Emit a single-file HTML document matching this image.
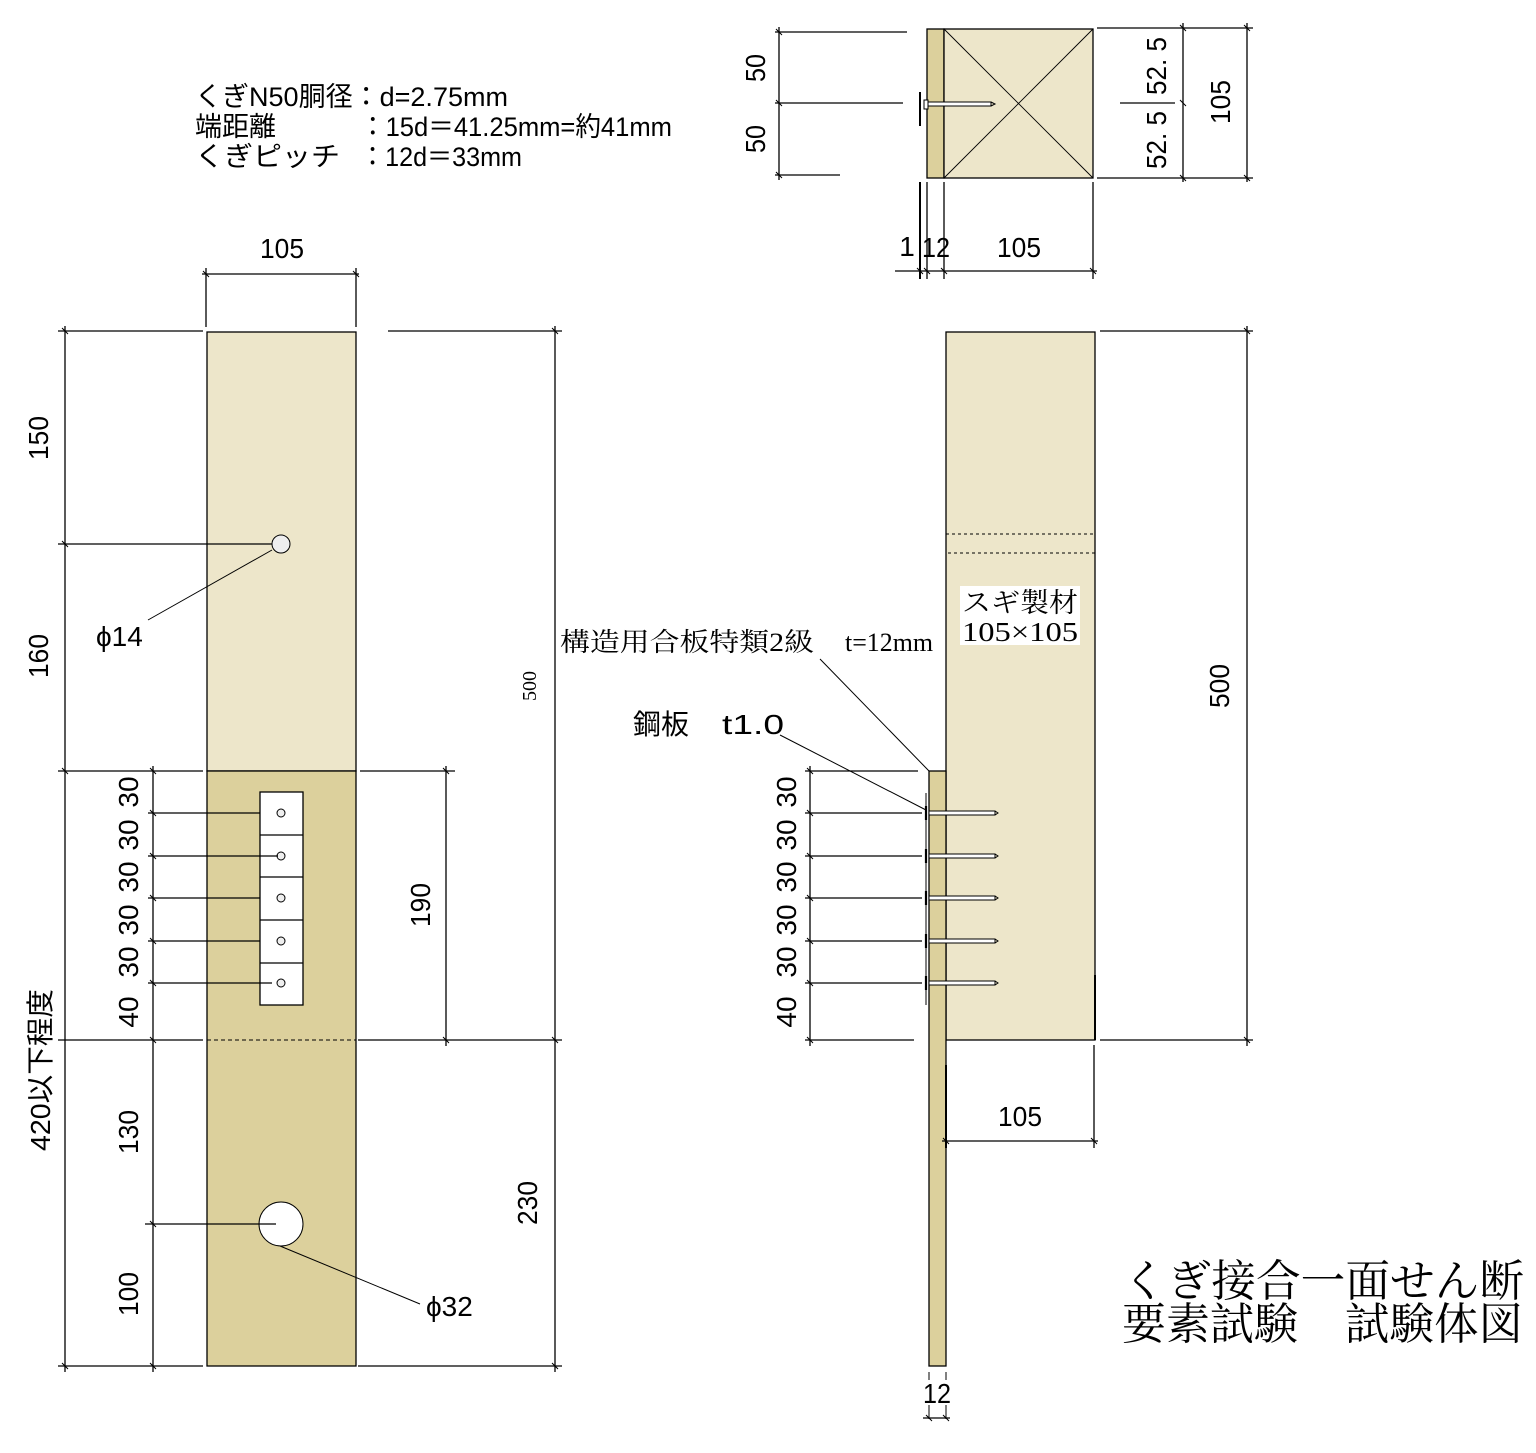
<!DOCTYPE html>
<html><head><meta charset="utf-8"><style>
html,body{margin:0;padding:0;background:#fff;}
svg{display:block;}
.g{font-family:"Liberation Sans","Noto Sans CJK JP",sans-serif;fill:#000;}
.m{font-family:"Liberation Serif","Noto Serif CJK SC",serif;fill:#000;}
</style></head><body>
<svg width="1536" height="1453" viewBox="0 0 1536 1453" xmlns="http://www.w3.org/2000/svg">
<g stroke="#000" stroke-width="1.3" fill="none">
<rect x="207" y="332" width="149" height="439" fill="#ede6ca"/>
<rect x="207" y="771" width="149" height="595" fill="#dcd09c"/>
<line x1="207" y1="1040" x2="356" y2="1040" stroke-dasharray="4,3" stroke-width="1"/>
<rect x="260" y="792" width="43" height="213" fill="#fff"/>
<line x1="260" y1="835" x2="303" y2="835"/><line x1="260" y1="877" x2="303" y2="877"/>
<line x1="260" y1="920" x2="303" y2="920"/><line x1="260" y1="963" x2="303" y2="963"/>
<g fill="#eee" stroke-width="1"><circle cx="281" cy="813" r="4"/><circle cx="281" cy="856" r="4"/><circle cx="281" cy="898" r="4"/><circle cx="281" cy="941" r="4"/><circle cx="281" cy="983" r="4"/></g>
<circle cx="281" cy="544" r="9" fill="#eee" stroke-width="1"/>
<circle cx="281" cy="1224" r="22" fill="#fff" stroke-width="1"/>
<line x1="206" y1="268" x2="206" y2="327"/><line x1="356" y1="268" x2="356" y2="327"/>
<line x1="202" y1="274" x2="359" y2="274"/>
<line x1="58" y1="331" x2="203" y2="331"/><line x1="388" y1="331" x2="562" y2="331"/>
<line x1="58" y1="544" x2="272" y2="544"/>
<line x1="58" y1="771" x2="203" y2="771"/><line x1="360" y1="771" x2="455" y2="771"/>
<line x1="148" y1="813" x2="260" y2="813"/><line x1="148" y1="856" x2="278" y2="856"/>
<line x1="148" y1="898" x2="260" y2="898"/><line x1="148" y1="941" x2="260" y2="941"/>
<line x1="148" y1="983" x2="272" y2="983"/>
<line x1="58" y1="1040" x2="203" y2="1040"/><line x1="358" y1="1040" x2="562" y2="1040"/>
<line x1="145" y1="1224" x2="276" y2="1224"/>
<line x1="58" y1="1366" x2="203" y2="1366"/><line x1="358" y1="1366" x2="562" y2="1366"/>
<line x1="65" y1="326" x2="65" y2="1372"/>
<line x1="153" y1="766" x2="153" y2="1372"/>
<line x1="446" y1="766" x2="446" y2="1046"/>
<line x1="555" y1="326" x2="555" y2="1372"/>
<line x1="272" y1="550" x2="148" y2="620" stroke-width="1"/>
<line x1="280" y1="1246" x2="420" y2="1304" stroke-width="1"/>
<g stroke-width="1">
<path d="M62 328l6 6M62 541l6 6M62 768l6 6M62 1363l6 6M150 768l6 6M150 810l6 6M150 853l6 6M150 895l6 6M150 938l6 6M150 980l6 6M150 1037l6 6M150 1221l6 6M150 1363l6 6M443 768l6 6M443 1037l6 6M552 328l6 6M552 1037l6 6M552 1363l6 6M203 271l6 6M353 271l6 6"/>
</g>

<rect x="946" y="332" width="149" height="708" fill="#ede6ca"/>
<rect x="946" y="534" width="149" height="19" stroke-dasharray="3,3" stroke-width="1"/>
<rect x="929" y="771" width="17" height="595" fill="#dcd09c"/>
<line x1="926" y1="793" x2="926" y2="1005" stroke-width="1"/>
<g stroke-width="1">
<rect x="929" y="811" width="66" height="4" fill="#fff"/><rect x="929" y="854" width="66" height="4" fill="#fff"/>
<rect x="929" y="896" width="66" height="4" fill="#fff"/><rect x="929" y="939" width="66" height="4" fill="#fff"/>
<rect x="929" y="981" width="66" height="4" fill="#fff"/>
<path d="M995 811l3 2-3 2M995 854l3 2-3 2M995 896l3 2-3 2M995 939l3 2-3 2M995 981l3 2-3 2"/>
</g>
<g stroke-width="2.2"><path d="M926 806v14M926 849v14M926 891v14M926 934v14M926 976v14"/></g>
<line x1="1095" y1="975" x2="1095" y2="1040" stroke-width="2"/>
<line x1="946" y1="1065" x2="946" y2="1148" stroke-width="2"/>
<line x1="1100" y1="331" x2="1253" y2="331"/><line x1="1100" y1="1040" x2="1253" y2="1040"/>
<line x1="1247" y1="326" x2="1247" y2="1046"/>
<line x1="805" y1="771" x2="918" y2="771"/>
<line x1="805" y1="813" x2="922" y2="813"/><line x1="805" y1="856" x2="922" y2="856"/>
<line x1="805" y1="898" x2="922" y2="898"/><line x1="805" y1="941" x2="922" y2="941"/>
<line x1="805" y1="983" x2="922" y2="983"/><line x1="805" y1="1040" x2="914" y2="1040"/>
<line x1="810" y1="766" x2="810" y2="1046"/>
<line x1="1094" y1="1045" x2="1094" y2="1148"/>
<line x1="942" y1="1141" x2="1098" y2="1141"/>
<path d="M929 1372v8M946 1372v8M929 1405v14M946 1405v14" stroke-width="1"/>
<line x1="923" y1="1418" x2="950" y2="1418"/>
<line x1="820" y1="659" x2="929" y2="771" stroke-width="1"/>
<line x1="780" y1="735" x2="926" y2="810" stroke-width="1"/>
<g stroke-width="1">
<path d="M1244 328l6 6M1244 1037l6 6M807 768l6 6M807 810l6 6M807 853l6 6M807 895l6 6M807 938l6 6M807 980l6 6M807 1037l6 6M943 1138l6 6M1091 1138l6 6M926 1415l6 6M943 1415l6 6"/>
</g>

<rect x="927" y="29" width="17" height="149" fill="#dcd09c"/>
<rect x="944" y="29" width="149" height="149" fill="#ede6ca"/>
<line x1="944" y1="29" x2="1093" y2="178" stroke-width="0.9"/>
<line x1="1093" y1="29" x2="944" y2="178" stroke-width="0.9"/>
<line x1="920" y1="92" x2="920" y2="126" stroke-width="2"/>
<rect x="924" y="100" width="4" height="9" fill="#fff" stroke-width="1"/>
<rect x="928" y="102" width="63" height="4" fill="#fff" stroke-width="1"/>
<path d="M991 102l4 2-4 2" stroke-width="1"/>
<line x1="775" y1="32" x2="907" y2="32"/><line x1="775" y1="103" x2="903" y2="103"/><line x1="775" y1="175" x2="840" y2="175"/>
<line x1="779" y1="27" x2="779" y2="180"/>
<line x1="1097" y1="28" x2="1253" y2="28"/><line x1="1097" y1="178" x2="1253" y2="178"/>
<line x1="1120" y1="103" x2="1175" y2="103"/>
<line x1="1183" y1="23" x2="1183" y2="182"/><line x1="1247" y1="23" x2="1247" y2="182"/>
<line x1="920" y1="182" x2="920" y2="279" stroke-width="2"/>
<line x1="927" y1="182" x2="927" y2="279"/>
<line x1="1093" y1="182" x2="1093" y2="279"/>
<line x1="895" y1="271" x2="1097" y2="271"/>
<g stroke-width="1">
<path d="M776 29l6 6M776 100l6 6M776 172l6 6M1180 25l6 6M1180 100l6 6M1180 175l6 6M1244 25l6 6M1244 175l6 6M917 268l6 6M924 268l6 6M941 268l6 6M1090 268l6 6"/>
</g>
</g>
<line x1="944" y1="182" x2="944" y2="279" stroke="#000" stroke-width="1.3"/>

<g class="g" font-size="27">
<text x="195" y="106" textLength="313" lengthAdjust="spacingAndGlyphs">くぎN50胴径：d=2.75mm</text>
<text x="195" y="136">端距離</text>
<text x="360" y="136" textLength="312" lengthAdjust="spacingAndGlyphs">：15d＝41.25mm=約41mm</text>
<text x="195" y="166" textLength="145" lengthAdjust="spacingAndGlyphs">くぎピッチ</text>
<text x="360" y="166" textLength="162" lengthAdjust="spacingAndGlyphs">：12d＝33mm</text>
</g>
<g class="g" font-size="28" text-anchor="middle">
<text x="282" y="258" textLength="44" lengthAdjust="spacingAndGlyphs">105</text>
<text transform="translate(48,438) rotate(-90)" textLength="44" lengthAdjust="spacingAndGlyphs">150</text>
<text transform="translate(48,656) rotate(-90)" textLength="44" lengthAdjust="spacingAndGlyphs">160</text>
<text transform="translate(50,1070) rotate(-90)" textLength="162" lengthAdjust="spacingAndGlyphs">420以下程度</text>
<text transform="translate(138,1132) rotate(-90)" textLength="44" lengthAdjust="spacingAndGlyphs">130</text>
<text transform="translate(138,1294) rotate(-90)" textLength="44" lengthAdjust="spacingAndGlyphs">100</text>
<text transform="translate(430,905) rotate(-90)" textLength="44" lengthAdjust="spacingAndGlyphs">190</text>
<text transform="translate(537,1203) rotate(-90)" textLength="44" lengthAdjust="spacingAndGlyphs">230</text>
<text transform="translate(1229,686) rotate(-90)" textLength="44" lengthAdjust="spacingAndGlyphs">500</text>
<text x="1020" y="1126" textLength="44" lengthAdjust="spacingAndGlyphs">105</text>
<text x="937" y="1403" textLength="28" lengthAdjust="spacingAndGlyphs">12</text>
<text x="1019" y="257" textLength="44" lengthAdjust="spacingAndGlyphs">105</text>
<text x="907" y="256">1</text>
<text x="936" y="257" textLength="28" lengthAdjust="spacingAndGlyphs">12</text>
<text transform="translate(765,68) rotate(-90)" textLength="28" lengthAdjust="spacingAndGlyphs">50</text>
<text transform="translate(765,139) rotate(-90)" textLength="28" lengthAdjust="spacingAndGlyphs">50</text>
<text transform="translate(1166,66) rotate(-90)" textLength="58" lengthAdjust="spacingAndGlyphs">52. 5</text>
<text transform="translate(1166,140) rotate(-90)" textLength="58" lengthAdjust="spacingAndGlyphs">52. 5</text>
<text transform="translate(1230,102) rotate(-90)" textLength="44" lengthAdjust="spacingAndGlyphs">105</text>
</g>
<g class="g" font-size="28" text-anchor="middle">
<text transform="translate(138,792) rotate(-90)">30</text>
<text transform="translate(138,835) rotate(-90)">30</text>
<text transform="translate(138,877) rotate(-90)">30</text>
<text transform="translate(138,920) rotate(-90)">30</text>
<text transform="translate(138,962) rotate(-90)">30</text>
<text transform="translate(138,1012) rotate(-90)">40</text>
<text transform="translate(796,792) rotate(-90)">30</text>
<text transform="translate(796,835) rotate(-90)">30</text>
<text transform="translate(796,877) rotate(-90)">30</text>
<text transform="translate(796,920) rotate(-90)">30</text>
<text transform="translate(796,962) rotate(-90)">30</text>
<text transform="translate(796,1012) rotate(-90)">40</text>
</g>
<text class="m" font-size="20" transform="translate(536,686) rotate(-90)" text-anchor="middle">500</text>
<g class="g" font-size="28">
<text x="96" y="646">ϕ14</text>
<text x="426" y="1316">ϕ32</text>
<text x="633" y="734">鋼板</text>
<text x="722" y="734" textLength="62" lengthAdjust="spacingAndGlyphs">t1.0</text>
</g>
<g class="m" font-size="26">
<text x="560" y="651" textLength="254" lengthAdjust="spacingAndGlyphs">構造用合板特類2級</text>
<text x="845" y="651" textLength="88" lengthAdjust="spacingAndGlyphs">t=12mm</text>
</g>
<rect x="960" y="586" width="120" height="59" fill="#fff"/>
<g class="m" font-size="27">
<text x="962" y="612" textLength="116" lengthAdjust="spacingAndGlyphs">スギ製材</text>
<text x="962" y="641" textLength="116" lengthAdjust="spacingAndGlyphs">105×105</text>
</g>
<g class="m" font-size="44">
<text x="1122" y="1296" textLength="402" lengthAdjust="spacingAndGlyphs">くぎ接合一面せん断</text>
<text x="1122" y="1339" textLength="176" lengthAdjust="spacingAndGlyphs">要素試験</text>
<text x="1345" y="1339" textLength="178" lengthAdjust="spacingAndGlyphs">試験体図</text>
</g>
</svg>
</body></html>
